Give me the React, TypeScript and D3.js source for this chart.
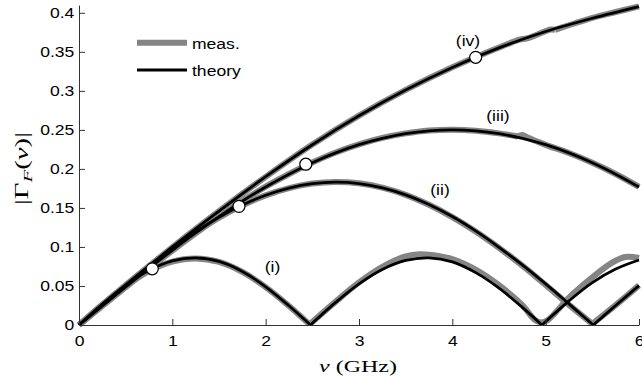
import React, { useEffect, useRef } from 'react';
import * as d3 from 'd3';

type Pt = [number, number];

// theory curves, [nu (GHz), |Gamma_F|]
const theoryI: Pt[] = [
  [0, 0], [0.25, 0.0268], [0.5, 0.0509], [0.75, 0.07], [1.0, 0.0821], [1.25, 0.086],
  [1.5, 0.0814], [1.75, 0.0686], [2.0, 0.049], [2.25, 0.0247], [2.48, 0],
  [2.75, 0.0289], [3.0, 0.0527], [3.25, 0.0711], [3.5, 0.0827], [3.75, 0.086],
  [4.0, 0.0809], [4.25, 0.0671], [4.5, 0.0473], [4.75, 0.0226], [4.96, 0],
  [5.25, 0.0309], [5.5, 0.0543], [5.75, 0.0717], [6.0, 0.0833],
];
const theoryII: Pt[] = [
  [0, 0], [0.25, 0.026], [0.5, 0.0515], [0.75, 0.0759], [1.0, 0.0988], [1.25, 0.1197],
  [1.5, 0.1381], [1.75, 0.1537], [2.0, 0.1663], [2.25, 0.1755], [2.5, 0.1811],
  [2.75, 0.183], [3.0, 0.1812], [3.25, 0.1757], [3.5, 0.1668], [3.75, 0.1543],
  [4.0, 0.1389], [4.25, 0.1205], [4.5, 0.0996], [4.75, 0.077], [5.0, 0.0526],
  [5.25, 0.027], [5.51, 0], [5.75, 0.025], [6.0, 0.0505],
];
const theoryIII: Pt[] = [
  [0, 0], [0.25, 0.0245], [0.5, 0.0488], [0.75, 0.0726], [1.0, 0.0957], [1.25, 0.1179],
  [1.5, 0.1389], [1.75, 0.1586], [2.0, 0.1768], [2.25, 0.1932], [2.5, 0.2079],
  [2.75, 0.2205], [3.0, 0.231], [3.25, 0.2392], [3.5, 0.2452], [3.75, 0.2488],
  [4.0, 0.25], [4.25, 0.2488], [4.5, 0.2452], [4.75, 0.2392], [5.0, 0.231],
  [5.25, 0.2205], [5.5, 0.2079], [5.75, 0.1932], [6.0, 0.1768],
];
const theoryIV: Pt[] = [
  [0, 0], [0.5, 0.05], [1, 0.1], [1.5, 0.146], [2, 0.19], [2.5, 0.231], [3, 0.268],
  [3.5, 0.301], [4, 0.33], [4.5, 0.355], [5, 0.376], [5.5, 0.393], [6, 0.408],
];

// measured curves
const measI: Pt[] = [
  [0, 0], [0.25, 0.0262], [0.5, 0.0502], [0.75, 0.0692], [1.0, 0.0812], [1.25, 0.0853],
  [1.5, 0.0808], [1.75, 0.068], [2.0, 0.0486], [2.25, 0.0244], [2.47, 0.0008],
  [2.75, 0.03], [3.0, 0.0545], [3.25, 0.0745], [3.5, 0.088], [3.65, 0.0905],
  [3.85, 0.0885], [4.0, 0.0845], [4.25, 0.071], [4.5, 0.051], [4.75, 0.0255],
  [4.88, 0.007], [4.95, 0.003], [5.02, 0.006], [5.25, 0.035], [5.5, 0.061],
  [5.7, 0.079], [5.85, 0.0872], [6.0, 0.086],
];
const measII: Pt[] = [
  [0, 0], [0.25, 0.0258], [0.5, 0.0512], [0.75, 0.0755], [1.0, 0.0983], [1.25, 0.1192],
  [1.5, 0.1377], [1.75, 0.1534], [2.0, 0.1661], [2.25, 0.1754], [2.5, 0.1812],
  [2.75, 0.1832], [3.0, 0.1815], [3.25, 0.176], [3.5, 0.1668], [3.75, 0.154],
  [4.0, 0.1383], [4.25, 0.1198], [4.5, 0.0988], [4.75, 0.076], [5.0, 0.0512],
  [5.25, 0.0258], [5.5, 0.0015], [5.75, 0.0255], [6.0, 0.0508],
];
const measIII: Pt[] = [
  [0, 0], [0.25, 0.0243], [0.5, 0.0485], [0.75, 0.0722], [1.0, 0.0953], [1.25, 0.1176],
  [1.5, 0.1387], [1.75, 0.1588], [2.0, 0.1772], [2.25, 0.1935], [2.5, 0.2082],
  [2.75, 0.221], [3.0, 0.2314], [3.25, 0.2398], [3.5, 0.2455], [3.75, 0.2492],
  [4.0, 0.2503], [4.25, 0.249], [4.5, 0.2455], [4.7, 0.2415], [4.75, 0.2435],
  [4.8, 0.2405], [5.0, 0.2308], [5.25, 0.2203], [5.5, 0.2078], [5.75, 0.1935],
  [6.0, 0.177],
];
const measIV: Pt[] = [
  [0, 0], [0.5, 0.0498], [1, 0.0995], [1.5, 0.1458], [2, 0.1898], [2.5, 0.2312],
  [3, 0.2683], [3.5, 0.3012], [4, 0.3302], [4.5, 0.3555], [4.72, 0.3655], [4.8, 0.3672],
  [5, 0.3765], [5.05, 0.3785], [5.1, 0.3782], [5.5, 0.3935], [5.75, 0.401], [6, 0.4082],
];

// open circles on each theory curve
const markers: Pt[] = [[0.785, 0.072], [1.714, 0.152], [2.43, 0.206], [4.25, 0.343]];

const curveLabels = ['(i)', '(ii)', '(iii)', '(iv)'];
const labelPos: Pt[] = [[2.073, 0.068], [3.868, 0.1667], [4.489, 0.261], [4.168, 0.358]];

const xTicks = [0, 1, 2, 3, 4, 5, 6];
const yTicks = [0, 0.05, 0.1, 0.15, 0.2, 0.25, 0.3, 0.35, 0.4];

const W = 642;
const H = 377;
const SANS = 'Liberation Sans, Arial, Helvetica, sans-serif';
const SERIF = 'Liberation Serif, Times New Roman, serif';
const STRETCH = 'scale(1.17,1)';

// split a curve at its minima so the |.| cusps stay sharp
function arches(pts: Pt[]): Pt[][] {
  const out: Pt[][] = [];
  let cur: Pt[] = [pts[0]];
  for (let i = 1; i < pts.length; i++) {
    cur.push(pts[i]);
    if (i < pts.length - 1 && pts[i][1] <= pts[i - 1][1] && pts[i][1] <= pts[i + 1][1]) {
      out.push(cur);
      cur = [pts[i]];
    }
  }
  out.push(cur);
  return out;
}

const App = () => {
  const ref = useRef<SVGSVGElement>(null);

  useEffect(() => {
    if (!ref.current) return;
    const svg = d3.select(ref.current);
    svg.selectAll('*').remove();

    const x = d3.scaleLinear().domain([0, 6]).range([79, 639]);
    const y = d3.scaleLinear().domain([0, 0.41]).range([325, 5]);

    const line = d3
      .line<Pt>()
      .x((d) => x(d[0]))
      .y((d) => y(d[1]))
      .curve(d3.curveCatmullRom.alpha(0.5));

    // measured (grey, thick) under theory (black)
    const meas = [measI, measII, measIII, measIV];
    const theory = [theoryI, theoryII, theoryIII, theoryIV];
    const gMeas = svg.append('g');
    meas.forEach((m) =>
      arches(m).forEach((seg) =>
        gMeas.append('path').attr('d', line(seg)).attr('fill', 'none')
          .attr('stroke', '#858585').attr('stroke-width', 6).attr('stroke-linejoin', 'round')
      )
    );
    const gTh = svg.append('g');
    theory.forEach((t) =>
      arches(t).forEach((seg) =>
        gTh.append('path').attr('d', line(seg)).attr('fill', 'none')
          .attr('stroke', '#000').attr('stroke-width', 2.8).attr('stroke-linejoin', 'miter')
      )
    );

    svg.append('g').selectAll('circle').data(markers).join('circle')
      .attr('cx', (d) => x(d[0])).attr('cy', (d) => y(d[1])).attr('r', 6)
      .attr('fill', '#fff').attr('stroke', '#000').attr('stroke-width', 1.2);

    svg.append('g').selectAll('text').data(curveLabels).join('text')
      .attr('transform', (d, i) => `translate(${x(labelPos[i][0])},${y(labelPos[i][1])}) ${STRETCH}`)
      .attr('text-anchor', 'middle').attr('font-family', SANS).attr('font-size', 15)
      .text((d) => d);

    // axes, ticks pointing inwards
    const fmt = (d: d3.NumberValue) => String(+(+d).toFixed(2));
    const yAxis = svg.append('g').attr('transform', 'translate(79,0)')
      .call(d3.axisLeft(y).tickValues(yTicks).tickFormat(fmt).tickSizeInner(-6).tickSizeOuter(0).tickPadding(4));
    const xAxis = svg.append('g').attr('transform', 'translate(0,325)')
      .call(d3.axisBottom(x).tickValues(xTicks).tickFormat(fmt).tickSizeInner(-6).tickSizeOuter(0).tickPadding(10));
    [xAxis, yAxis].forEach((a) => {
      a.selectAll('path, line').attr('stroke', '#333');
      a.selectAll('text').attr('font-family', SANS).attr('font-size', 15)
        .attr('fill', '#000').attr('transform', STRETCH);
    });

    // legend
    const leg = svg.append('g');
    leg.append('line').attr('x1', 137).attr('x2', 187).attr('y1', 42.7).attr('y2', 42.7)
      .attr('stroke', '#858585').attr('stroke-width', 6);
    leg.append('line').attr('x1', 137).attr('x2', 187).attr('y1', 70).attr('y2', 70)
      .attr('stroke', '#000').attr('stroke-width', 3);
    leg.append('text').attr('transform', `translate(192,48.5) ${STRETCH}`)
      .attr('font-family', SANS).attr('font-size', 15).text('meas.');
    leg.append('text').attr('transform', `translate(192,75.5) ${STRETCH}`)
      .attr('font-family', SANS).attr('font-size', 15).text('theory');

    // axis titles
    const xt = svg.append('text').attr('x', 319).attr('y', 371.5)
      .attr('font-family', SERIF).attr('font-size', 17)
      .attr('textLength', 78).attr('lengthAdjust', 'spacingAndGlyphs');
    xt.append('tspan').attr('font-style', 'italic').text('ν');
    xt.append('tspan').text(' (GHz)');

    const yt = svg.append('text')
      .attr('transform', 'translate(28,205) rotate(-90)')
      .attr('font-family', SERIF).attr('font-size', 18)
      .attr('textLength', 73).attr('lengthAdjust', 'spacingAndGlyphs');
    yt.append('tspan').text('|Γ');
    yt.append('tspan').attr('font-style', 'italic').attr('font-size', 13).attr('dy', 4).text('F');
    yt.append('tspan').attr('dy', -4).text('(');
    yt.append('tspan').attr('font-style', 'italic').text('ν');
    yt.append('tspan').text(')|');
  }, []);

  return (
    <div style={{ position: 'absolute', left: 0, top: 0 }}>
      <svg ref={ref} width={W} height={H} style={{ display: 'block', background: '#fff' }} />
    </div>
  );
};

export default App;
